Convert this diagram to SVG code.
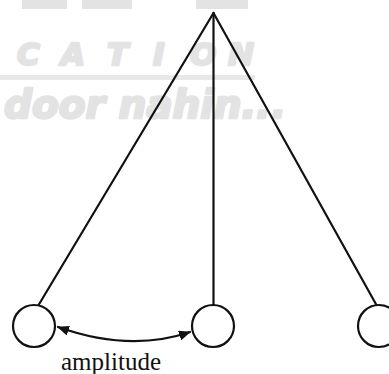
<svg xmlns="http://www.w3.org/2000/svg" width="389" height="374" viewBox="0 0 389 374">
  <style>
    .wm { fill: #e3e3e3; stroke: #e3e3e3; stroke-width: 2.5; stroke-linejoin: round; font-family: "DejaVu Sans", "Liberation Sans", sans-serif; font-weight: bold; font-style: italic; }
    .rod { stroke: #111111; stroke-width: 2.2; fill: none; stroke-linecap: round; }
    .bob { stroke: #111111; stroke-width: 2.2; fill: #ffffff; }
    .lbl { font-family: "Liberation Serif", "Times New Roman", serif; font-size: 25px; fill: #111111; }
  </style>
  <defs>
    <marker id="ah" viewBox="0 0 12 10" refX="11" refY="5" markerWidth="12" markerHeight="10" markerUnits="userSpaceOnUse" orient="auto-start-reverse">
      <path d="M0,0 L12,5 L0,10 z" fill="#111111"/>
    </marker>
  </defs>
  <rect width="389" height="374" fill="#ffffff"/>
  <g id="watermark">
    <rect x="22" y="0" width="45" height="9" fill="#e3e3e3"/>
    <rect x="82" y="0" width="50" height="9" fill="#e3e3e3"/>
    <rect x="196" y="0" width="52" height="9" fill="#e3e3e3"/>
    <text class="wm" x="17 61 107 153 190 228" y="65" font-size="31">CATION</text>
    <rect x="0" y="75" width="255" height="5" fill="#e8e8e8"/>
    <text class="wm" x="4" y="118" font-size="39" textLength="282" lengthAdjust="spacing">door nahin...</text>
  </g>
  <g id="connectors">
    <line class="rod" x1="213.5" y1="13" x2="38" y2="306"/>
    <line class="rod" x1="213.5" y1="13" x2="213.5" y2="305"/>
    <line class="rod" x1="213.5" y1="13" x2="377" y2="306"/>
    <path class="rod" d="M58,327 Q130,352.5 190,332" marker-start="url(#ah)" marker-end="url(#ah)"/>
  </g>
  <g id="bob-left"><circle class="bob" cx="34" cy="326" r="21"/></g>
  <g id="bob-center"><circle class="bob" cx="213" cy="326" r="21"/></g>
  <g id="bob-right"><circle class="bob" cx="379" cy="326" r="21"/></g>
  <g id="label-amplitude"><text class="lbl" x="61" y="370">amplitude</text></g>
</svg>
